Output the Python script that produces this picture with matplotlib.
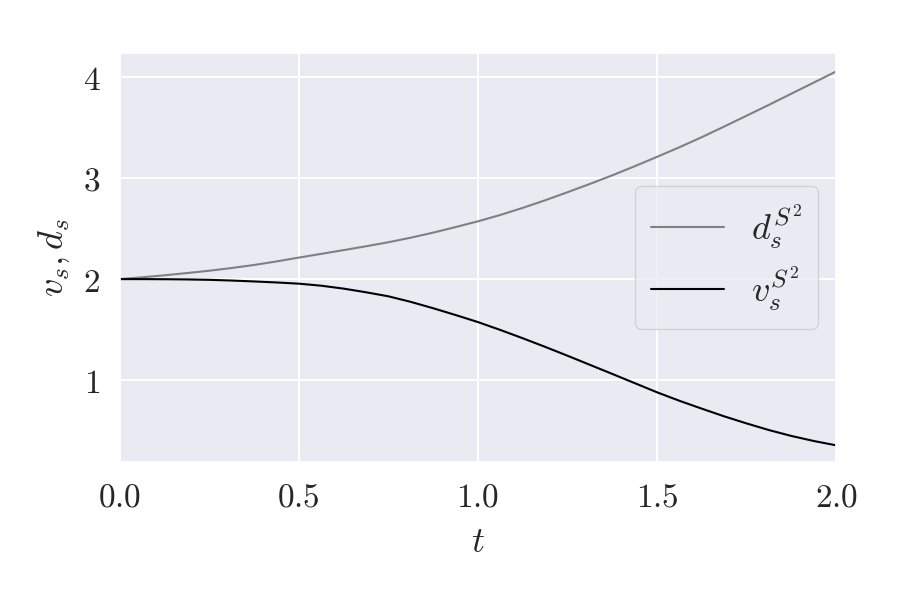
import matplotlib
matplotlib.use("Agg")
import matplotlib.pyplot as plt
import seaborn as sns
from matplotlib.ticker import FuncFormatter

t = [0.0, 0.0625, 0.125, 0.1875, 0.25, 0.3125, 0.375, 0.4375, 0.5, 0.5625, 0.625,
     0.6875, 0.75, 0.8125, 0.875, 0.9375, 1.0, 1.0625, 1.125, 1.1875, 1.25, 1.3125,
     1.375, 1.4375, 1.5, 1.5625, 1.625, 1.6875, 1.75, 1.8125, 1.875, 1.9375, 2.0]
d_s = [2.000, 2.018, 2.038, 2.060, 2.083, 2.110, 2.140, 2.175, 2.213, 2.250, 2.287,
       2.325, 2.365, 2.410, 2.460, 2.515, 2.572, 2.635, 2.705, 2.780, 2.860, 2.942,
       3.027, 3.117, 3.210, 3.305, 3.405, 3.510, 3.617, 3.725, 3.835, 3.945, 4.055]
v_s = [2.000, 2.000, 1.999, 1.997, 1.993, 1.986, 1.977, 1.967, 1.955, 1.935, 1.906,
       1.870, 1.830, 1.775, 1.712, 1.645, 1.575, 1.497, 1.415, 1.330, 1.242, 1.152,
       1.062, 0.971, 0.880, 0.796, 0.718, 0.642, 0.572, 0.506, 0.448, 0.398, 0.355]

x_ticks = [0.0, 0.5, 1.0, 1.5, 2.0]
y_ticks = [1, 2, 3, 4]

sns.set_theme(style="darkgrid", rc={"grid.linewidth": 1.4})
plt.rcParams["mathtext.fontset"] = "cm"
plt.rcParams["font.family"] = ["DejaVu Serif"]

fig = plt.figure(figsize=(9, 6), dpi=100)
ax = fig.add_axes([0.133, 0.23, 0.796, 0.682])

ax.plot(t, d_s, color="gray", lw=1.5, label=r"$d_s^{S^2}$")
ax.plot(t, v_s, color="black", lw=1.5, label=r"$v_s^{S^2}$")

ax.set_xlim(0.0, 2.0)
ax.set_ylim(0.19, 4.24)
ax.set_xticks(x_ticks)
ax.set_yticks(y_ticks)
ax.xaxis.set_major_formatter(FuncFormatter(lambda v, p: f"${v:.1f}$"))
ax.yaxis.set_major_formatter(FuncFormatter(lambda v, p: f"${v:.0f}$"))
ax.tick_params(labelsize=24, colors="#262626", pad=8)
ax.set_xlabel(r"$t$", fontsize=26, labelpad=8)
ax.set_ylabel(r"$v_s, d_s$", fontsize=26, labelpad=8)

leg = ax.legend(loc="center right", bbox_to_anchor=(0.975, 0.5), borderaxespad=0,
                fontsize=26, handlelength=2.0, handletextpad=0.75,
                labelspacing=0.35, borderpad=0.45, frameon=True)
leg.get_frame().set_facecolor("#eaeaf2")
leg.get_frame().set_edgecolor("#cccccc")

fig.savefig("out.png", dpi=100)
